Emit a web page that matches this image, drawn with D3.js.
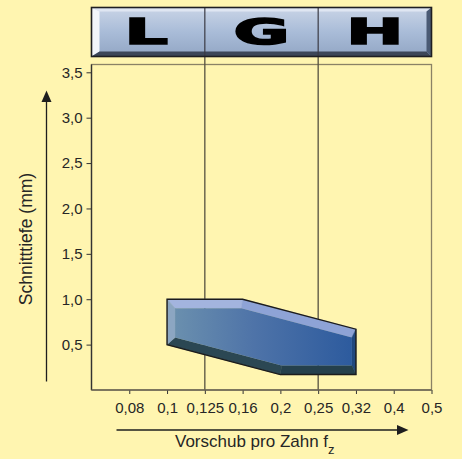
<!DOCTYPE html>
<html>
<head>
<meta charset="utf-8">
<script src="https://cdn.jsdelivr.net/npm/d3@7"></script>
<style>
  html, body { margin: 0; padding: 0; background: #fff5b0; }
  svg { display: block; }
  text { font-family: "Liberation Sans", Arial, sans-serif; fill: #262626; }
</style>
</head>
<body>
<svg id="chart" width="462" height="459"></svg>
<script>
// Feed steps per tooth (R10 series); the first slot is an unlabeled leading step
const feedSteps = [0.063, 0.08, 0.1, 0.125, 0.16, 0.2, 0.25, 0.32, 0.4, 0.5];
const feedTicks = [0.08, 0.1, 0.125, 0.16, 0.2, 0.25, 0.32, 0.4, 0.5];
const depthTicks = [0.5, 1.0, 1.5, 2.0, 2.5, 3.0, 3.5];
// Range boundaries between the L / G / H bands
const bandBounds = [0.125, 0.25];
const bandLabels = ["L", "G", "H"];
// Application window (feed, cutting depth), outline in drawing order
const windowFeed = [0.1, 0.16, 0.32, 0.32, 0.2, 0.1];
const windowDepth = [1.0, 1.0, 0.67, 0.17, 0.17, 0.5];

const svg = d3.select("#chart");
const left = 91.5, right = 431.5, bottom = 390, frameTop = 64.5;

const x = d3.scalePoint().domain(feedSteps).range([left, right]);
const y = d3.scaleLinear().domain([0, 3.5]).range([bottom, 72.3]);
const fmt = d => String(d).replace(".", ",");
const fmtY = d => d3.format(".1f")(d).replace(".", ",");

// Plot frame
svg.append("rect")
  .attr("x", left).attr("y", frameTop)
  .attr("width", right - left).attr("height", bottom - frameTop)
  .attr("fill", "none").attr("stroke", "#8a8266").attr("stroke-width", 1.3);

// Band boundaries run from the header down to the axis
svg.selectAll("line.band").data(bandBounds).enter().append("line")
  .attr("class", "band")
  .attr("x1", d => x(d)).attr("x2", d => x(d))
  .attr("y1", 56).attr("y2", bottom)
  .attr("stroke", "#565140").attr("stroke-width", 1.3);

// Axes
const yAxis = d3.axisLeft(y).tickValues(depthTicks).tickFormat(fmtY).tickSize(5).tickPadding(4);
const gy = svg.append("g").attr("transform", `translate(${left},0)`).call(yAxis);
gy.select(".domain").remove();
gy.selectAll(".tick line").attr("stroke", "#333");
gy.selectAll(".tick text").style("font-size", "15px").style("font-family", "Liberation Sans, Arial, sans-serif").attr("fill", "#262626");

const xAxis = d3.axisBottom(x).tickValues(feedTicks).tickFormat(fmt).tickSize(4).tickPadding(8);
const gx = svg.append("g").attr("transform", `translate(0,${bottom})`).call(xAxis);
gx.select(".domain").remove();
gx.selectAll(".tick line").attr("stroke", "#333");
gx.selectAll(".tick text").style("font-size", "15px").style("font-family", "Liberation Sans, Arial, sans-serif").attr("fill", "#262626");

svg.append("line").attr("x1", left).attr("x2", left).attr("y1", frameTop).attr("y2", bottom)
  .attr("stroke", "#333").attr("stroke-width", 1.3);
svg.append("line").attr("x1", left).attr("x2", right).attr("y1", bottom).attr("y2", bottom)
  .attr("stroke", "#6b6554").attr("stroke-width", 1.3);

// Bevelled application window
const defs = svg.append("defs");
const face = defs.append("linearGradient").attr("id", "faceGrad")
  .attr("x1", "0").attr("x2", "1").attr("y1", "0").attr("y2", "0");
face.append("stop").attr("offset", "0").attr("stop-color", "#6a8fae");
face.append("stop").attr("offset", "0.45").attr("stop-color", "#4e73a8");
face.append("stop").attr("offset", "1").attr("stop-color", "#2d5b9e");

const outer = windowFeed.map((f, i) => [x(f), y(windowDepth[i])]);
const insets = [9, 9, 4, 9, 9, 8];
const facetColors = ["#a3b4de", "#8ea3d6", "#22497f", "#25404c", "#2b4753", "#8ca6c2"];

function offsetLine(p, q, d) {
  const len = Math.hypot(q[0] - p[0], q[1] - p[1]);
  const dx = (q[0] - p[0]) / len, dy = (q[1] - p[1]) / len;
  const nx = -dy, ny = dx;
  return { p: [p[0] + nx * d, p[1] + ny * d], d: [dx, dy] };
}
function intersect(a, b) {
  const det = a.d[0] * b.d[1] - a.d[1] * b.d[0];
  const t = ((b.p[0] - a.p[0]) * b.d[1] - (b.p[1] - a.p[1]) * b.d[0]) / det;
  return [a.p[0] + a.d[0] * t, a.p[1] + a.d[1] * t];
}
const n = outer.length;
const lines = outer.map((p, i) => offsetLine(p, outer[(i + 1) % n], insets[i]));
const inner = outer.map((p, i) => intersect(lines[(i - 1 + n) % n], lines[i]));

const shape = svg.append("g");
outer.forEach((p, i) => {
  const j = (i + 1) % n;
  shape.append("path")
    .attr("d", d3.line()([p, outer[j], inner[j], inner[i]]) + "Z")
    .attr("fill", facetColors[i]).attr("stroke", facetColors[i]).attr("stroke-width", 0.5);
});
shape.append("path").attr("d", d3.line()(inner) + "Z").attr("fill", "url(#faceGrad)");
shape.append("path").attr("d", d3.line()(outer) + "Z")
  .attr("fill", "none").attr("stroke", "#1c1c1c").attr("stroke-width", 1.4)
  .attr("stroke-linejoin", "miter");

// Header with range letters
const hTop = 7.5, hBot = 56.5;
const hg = defs.append("linearGradient").attr("id", "hdrGrad")
  .attr("x1", "0").attr("x2", "0").attr("y1", "0").attr("y2", "1");
hg.append("stop").attr("offset", "0").attr("stop-color", "#c9d4e6");
hg.append("stop").attr("offset", "0.5").attr("stop-color", "#a9bcd8");
hg.append("stop").attr("offset", "1").attr("stop-color", "#92a6c4");
const header = svg.append("g");
header.append("rect").attr("x", left).attr("y", hTop).attr("width", right - left).attr("height", hBot - hTop)
  .attr("fill", "url(#hdrGrad)");
// bevel strips
header.append("path").attr("d", `M${left},${hTop}L${right},${hTop}L${right - 5},${hTop + 4}L${left + 8},${hTop + 4}Z`).attr("fill", "#dfe6f2");
header.append("path").attr("d", `M${left},${hTop}L${left + 8},${hTop + 4}L${left + 8},${hBot - 5}L${left},${hBot}Z`).attr("fill", "#f2f5fa");
header.append("path").attr("d", `M${left},${hBot}L${left + 8},${hBot - 5}L${right - 5},${hBot - 5}L${right},${hBot}Z`).attr("fill", "#3c4658");
header.append("path").attr("d", `M${right},${hTop}L${right},${hBot}L${right - 5},${hBot - 5}L${right - 5},${hTop + 4}Z`).attr("fill", "#4a5a74");
header.selectAll("line.div").data(bandBounds).enter().append("line")
  .attr("x1", d => x(d)).attr("x2", d => x(d)).attr("y1", hTop).attr("y2", hBot)
  .attr("stroke", "#3a3a44").attr("stroke-width", 1.2);
header.append("rect").attr("x", left).attr("y", hTop).attr("width", right - left).attr("height", hBot - hTop)
  .attr("fill", "none").attr("stroke", "#1e1e22").attr("stroke-width", 1.6);

const bandEdges = [left, ...bandBounds.map(b => x(b)), right];
header.selectAll("text.band").data(bandLabels).enter().append("text")
  .attr("transform", (d, i) => `translate(${(bandEdges[i] + bandEdges[i + 1]) / 2 - (i === 0 ? 2 : 0)},44) scale(1.95,1)`)
  .attr("text-anchor", "middle")
  .style("font-family", "DejaVu Sans, sans-serif").style("font-weight", "bold").style("font-size", "35px")
  .style("fill", "#000").style("stroke", "#000").style("stroke-width", 1.6)
  .text(d => d);

// Axis titles and direction arrows
svg.append("text")
  .attr("transform", "translate(32,239) rotate(-90)")
  .attr("text-anchor", "middle").style("font-size", "17.5px")
  .text("Schnitttiefe (mm)");
svg.append("line").attr("x1", 46.5).attr("x2", 46.5).attr("y1", 381.5).attr("y2", 100)
  .attr("stroke", "#1e1e1e").attr("stroke-width", 1.3);
svg.append("path").attr("d", "M46.5,90.5L41.5,102L51.5,102Z").attr("fill", "#1e1e1e");

svg.append("line").attr("x1", 116.5).attr("x2", 398).attr("y1", 430).attr("y2", 430)
  .attr("stroke", "#1e1e1e").attr("stroke-width", 1.3);
svg.append("path").attr("d", "M408.5,430L397,425L397,435Z").attr("fill", "#1e1e1e");

const xt = svg.append("text").attr("x", 175).attr("y", 447).style("font-size", "17px");
xt.append("tspan").text("Vorschub pro Zahn f");
xt.append("tspan").attr("dy", 7).style("font-size", "13px").text("z");
</script>
</body>
</html>
